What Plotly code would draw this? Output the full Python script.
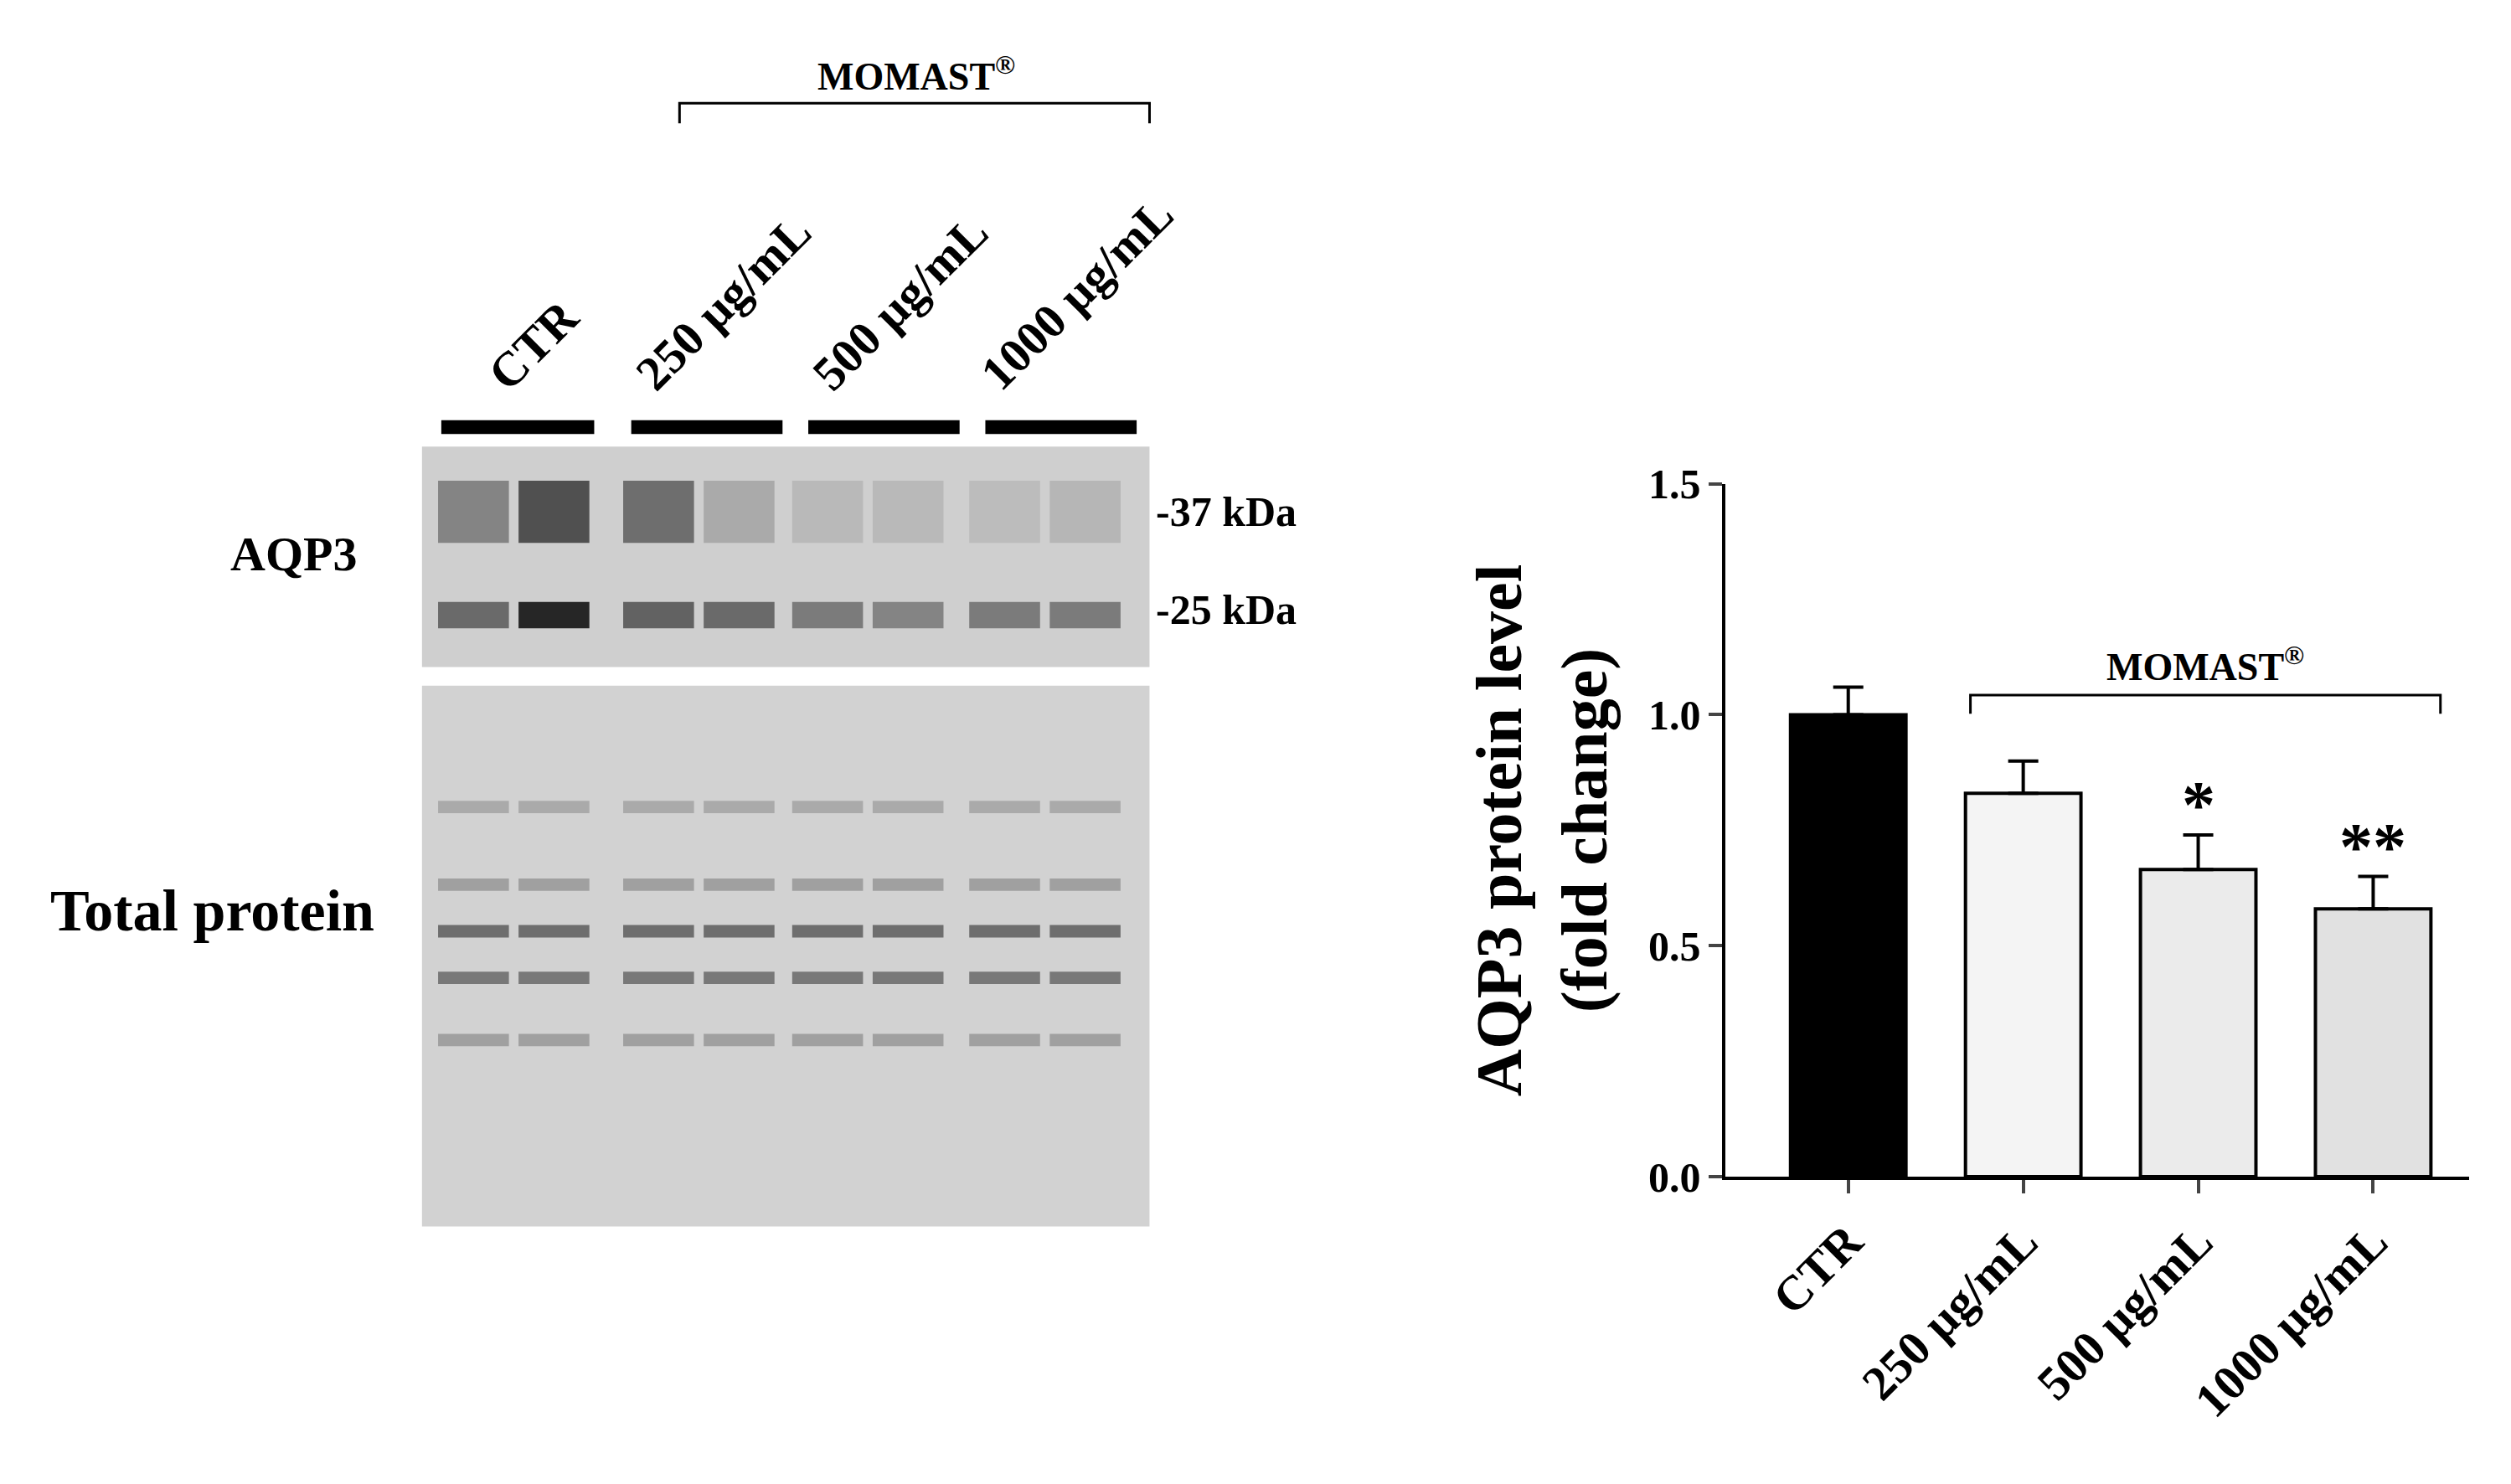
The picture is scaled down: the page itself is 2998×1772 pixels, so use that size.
import plotly.graph_objects as go

categories = ["CTR", "250 µg/mL", "500 µg/mL", "1000 µg/mL"]
values = [1.0, 0.83, 0.665, 0.58]
errors = [0.06, 0.07, 0.075, 0.07]
colors = ["#000000", "#f4f4f4", "#ebebeb", "#e1e1e1"]
stars = ["", "", "*", "**"]
yticks = [0.0, 0.5, 1.0, 1.5]
lane_labels = ["CTR", "250 µg/mL", "500 µg/mL", "1000 µg/mL"]
band25 = [0.55, 0.95, 0.6, 0.55, 0.45, 0.4, 0.45, 0.45]
band37 = [0.45, 0.8, 0.6, 0.2, 0.1, 0.1, 0.08, 0.12]

W, H = 1560.0, 925.0
def px(x): return x / W
def py(y): return 1 - y / H

F = "Liberation Serif"
fig = go.Figure()
fig.add_bar(x=categories, y=values, marker=dict(color=colors, line=dict(color="black", width=4)),
            width=0.66,
            error_y=dict(type="data", array=errors, symmetric=False, arrayminus=[0]*4,
                         color="black", thickness=4, width=18))
fig.update_layout(
    width=2998, height=1772, plot_bgcolor="white", paper_bgcolor="white",
    margin=dict(l=0, r=0, t=0, b=0), showlegend=False,
    font=dict(family=F, color="black"),
    xaxis=dict(domain=[px(1068), px(1530)], range=[-0.7, 3.55], showline=True, linecolor="black",
               linewidth=4, ticks="outside", ticklen=16, tickwidth=4, tickangle=-45,
               tickfont=dict(size=58, family=F, weight="bold")),
    yaxis=dict(domain=[py(738), py(292)], range=[0, 1.5], tickvals=yticks,
               ticktext=[f"{v:.1f}" for v in yticks], showline=True, linecolor="black",
               linewidth=4, ticks="outside", ticklen=16, tickwidth=4, showgrid=False, zeroline=False,
               tickfont=dict(size=50, family=F, weight="bold"),
               title=dict(text="AQP3 protein level<br>(fold change)", standoff=25,
                          font=dict(size=78, family=F, weight="bold"))),
)
for c, v, e, s in zip(categories, values, errors, stars):
    if s:
        fig.add_annotation(x=c, y=v + e, text=s, showarrow=False, yanchor="bottom", yshift=-10,
                           font=dict(size=80, family=F, weight="bold"))
fig.add_shape(type="path", xref="paper", yref="paper",
              path=f"M {px(1220)} {py(440)} L {px(1220)} {py(428)} L {px(1512)} {py(428)} L {px(1512)} {py(440)}",
              line=dict(color="black", width=3))
fig.add_annotation(xref="paper", yref="paper", x=px(1366), y=py(425), text="<b>MOMAST<sup>®</sup></b>",
                   showarrow=False, xanchor="center", yanchor="bottom", font=dict(size=46, family=F))

fig.add_shape(type="rect", xref="paper", yref="paper", x0=px(258), x1=px(710), y0=py(410), y1=py(268),
              fillcolor="#cfcfcf", line=dict(width=0), layer="below")
fig.add_shape(type="rect", xref="paper", yref="paper", x0=px(258), x1=px(710), y0=py(770), y1=py(422),
              fillcolor="#d2d2d2", line=dict(width=0), layer="below")
lanes = [290, 340, 405, 455, 510, 560, 620, 670]
for i, lx in enumerate(lanes):
    g = int(200 - 170 * band25[i])
    fig.add_shape(type="rect", xref="paper", yref="paper", x0=px(lx - 22), x1=px(lx + 22),
                  y0=py(385), y1=py(368), fillcolor=f"rgb({g},{g},{g})", line=dict(width=0))
    g = int(200 - 150 * band37[i])
    fig.add_shape(type="rect", xref="paper", yref="paper", x0=px(lx - 22), x1=px(lx + 22),
                  y0=py(330), y1=py(290), fillcolor=f"rgb({g},{g},{g})", line=dict(width=0))
    for by, gg in [(580, 110), (610, 120), (550, 160), (650, 160), (500, 170)]:
        fig.add_shape(type="rect", xref="paper", yref="paper", x0=px(lx - 22), x1=px(lx + 22),
                      y0=py(by + 4), y1=py(by - 4), fillcolor=f"rgb({gg},{gg},{gg})", line=dict(width=0))
for (x0, x1), lab in zip([(270, 365), (388, 482), (498, 592), (608, 702)], lane_labels):
    fig.add_shape(type="rect", xref="paper", yref="paper", x0=px(x0), x1=px(x1), y0=py(260), y1=py(251),
                  fillcolor="black", line=dict(width=0))
    fig.add_annotation(xref="paper", yref="paper", x=px((x0 + x1) / 2 + 10), y=py(240), text=f"<b>{lab}</b>",
                       textangle=-45, showarrow=False, xanchor="center", yanchor="bottom",
                       font=dict(size=58, family=F))
fig.add_shape(type="path", xref="paper", yref="paper",
              path=f"M {px(418)} {py(60)} L {px(418)} {py(47)} L {px(710)} {py(47)} L {px(710)} {py(60)}",
              line=dict(color="black", width=3))
fig.add_annotation(xref="paper", yref="paper", x=px(565), y=py(45), text="<b>MOMAST<sup>®</sup></b>",
                   showarrow=False, xanchor="center", yanchor="bottom", font=dict(size=46, family=F))
for y, t in [(310, "-37 kDa"), (373, "-25 kDa")]:
    fig.add_annotation(xref="paper", yref="paper", x=px(713), y=py(y), text=f"<b>{t}</b>",
                       showarrow=False, xanchor="left", font=dict(size=50, family=F))
fig.add_annotation(xref="paper", yref="paper", x=px(178), y=py(337), text="<b>AQP3</b>",
                   showarrow=False, xanchor="center", font=dict(size=58, family=F))
fig.add_annotation(xref="paper", yref="paper", x=px(128), y=py(567), text="<b>Total protein</b>",
                   showarrow=False, xanchor="center", font=dict(size=70, family=F))
fig.write_html("out.html")
